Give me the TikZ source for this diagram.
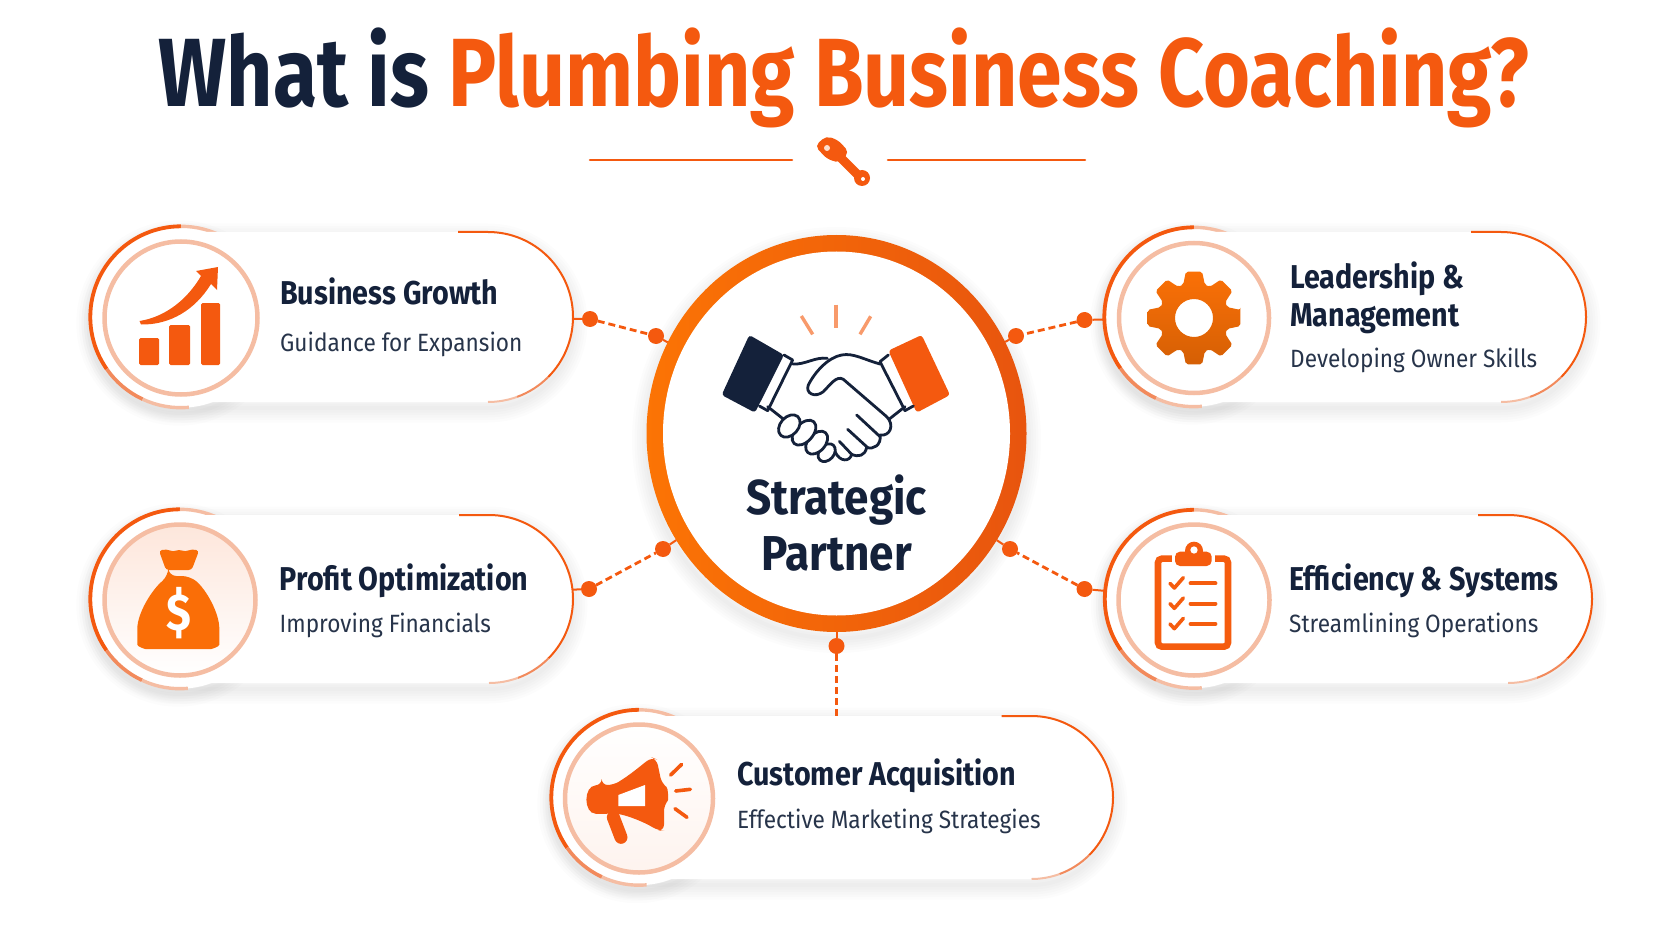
\documentclass[tikz,border=0pt]{standalone}
\usepackage{fontspec}
\setmainfont{Fira Sans}
\newfontfamily\titlefont[FakeStretch=0.83]{Fira Sans}
\newfontfamily\headfont[FakeStretch=0.87]{Fira Sans}
\newfontfamily\hubfont[FakeStretch=0.9]{Fira Sans}
\newfontfamily\subfont[FakeStretch=0.905]{Fira Sans}
\usepackage{tikz}
\usetikzlibrary{positioning}
\usetikzlibrary{shapes.geometric}
\definecolor{navy}{HTML}{14213A}
\definecolor{subnavy}{HTML}{27344A}
\definecolor{plumb}{HTML}{F4590F}
\definecolor{ringmid}{HTML}{F28A5C}
\definecolor{ringlight}{HTML}{F5BDA3}
\definecolor{rayorange}{HTML}{F89A6B}
\tikzset{titletext/.style={anchor=base,inner sep=0pt,font=\titlefont\bfseries\fontsize{97}{100}\selectfont}}
\tikzset{cardhead/.style={anchor=base west,inner sep=0pt,text=navy,font=\headfont\bfseries\fontsize{33}{36}\selectfont}}
\tikzset{cardsub/.style={anchor=base west,inner sep=0pt,text=subnavy,font=\subfont\fontsize{25}{28}\selectfont}}
\tikzset{hubtext/.style={anchor=base,inner sep=0pt,text=navy,font=\hubfont\bfseries\fontsize{49}{52}\selectfont}}
\tikzset{pillbox/.style={rectangle,fill=white,draw=none,inner sep=0pt,outer sep=0pt}}
\tikzset{ringbox/.style={circle,fill=white,draw=none,inner sep=0pt,outer sep=0pt}}
\tikzset{innerplain/.style={circle,draw=ringlight,line width=4.5pt,inner sep=0pt,outer sep=0pt}}
\tikzset{innerfade/.style={innerplain,top color=white,bottom color=plumb!7}}
\tikzset{innermoney/.style={innerplain,top color=plumb!15,bottom color=white}}
\tikzset{linkdot/.style={circle,fill=plumb,draw=none,inner sep=0pt,outer sep=0pt,minimum size=16pt}}
\tikzset{linkdash/.style={draw=plumb,line width=2.8pt,dash pattern=on 7pt off 4pt}}
\tikzset{linkstub/.style={draw=plumb,line width=2pt}}
\tikzset{handline/.style={draw=navy,line width=2.8pt,line cap=round,line join=round}}

\newcommand{\softpill}[4]{%
  \foreach \w in {4,9,...,29} {
    \draw[black,opacity=.012,line width=\w pt,rounded corners=#4 pt] (#1,#2) rectangle (#3,{#2+2*#4});
  }
}
\newcommand{\softround}[3]{%
  \foreach \w in {4,9,...,24} {
    \draw[black,opacity=.012,line width=\w pt] (#1,#2) circle (#3);
  }
}
% name, centre x, centre y, outer radius, inner radius, right end, half height, inner style
\newcommand{\pillcard}[8]{%
  \softround{#2-2}{#3+6}{#4}
  \softpill{#2-#7}{#3-#7+6}{#6}{#7}
  \node[ringbox,minimum size={2*#4}] (ring#1) at (#2,#3) {};
  \draw[plumb,line width=3.8pt] (ring#1.90) arc[start angle=-90,end angle=-215,radius=#4];
  \draw[ringmid,line width=3.6pt] (ring#1.215) arc[start angle=-215,end angle=-245,radius=#4];
  \draw[ringlight,line width=3.4pt] (ring#1.245) arc[start angle=-245,end angle=-275,radius=#4];
  \draw[ringlight,line width=3.4pt] (ring#1.90) arc[start angle=-90,end angle=-60,radius=#4];
  \node[pillbox,minimum width={#6-#2+#7},minimum height={2*#7},rounded corners=#7 pt] (pill#1) at ({(#2-#7+#6)/2},#3) {};
  \draw[plumb,line width=2pt] ({#6-#7-30},{#3-#7}) -- ({#6-#7},{#3-#7}) arc[start angle=-90,end angle=45,radius=#7];
  \draw[ringmid,line width=2pt] ({#6-#7+#7*cos(45)},{#3+#7*sin(45)}) arc[start angle=45,end angle=70,radius=#7];
  \draw[ringlight,line width=2pt] ({#6-#7+#7*cos(70)},{#3+#7*sin(70)}) arc[start angle=70,end angle=90,radius=#7];
  \node[#8,minimum size={2*#5}] (disc#1) at (#2,{#3+1}) {};
}

\begin{document}
\begin{tikzpicture}[x=1pt,y=-1pt]
\useasboundingbox (0,0) rectangle (1672,941);

% title and divider
\node[titletext,text=navy] (title) at (844,107) {What is \textcolor{plumb}{Plumbing Business Coaching?}};
\draw[plumb,line width=2.6pt,line cap=round] (590,160) -- (792,160);
\draw[plumb,line width=2.6pt,line cap=round] (888,160) -- (1085,160);

% wrench
\fill[plumb,rounded corners=5pt] (815,146) -- (826,136) -- (838,140) -- (849,152) -- (840,163) -- (827,159) -- cycle;
\draw[plumb,line width=9pt,line cap=round] (836,153) -- (858,175);
\fill[plumb] (862,178) circle (8);
\fill[white] (863,179) circle (2);
\fill[white!80!plumb] (827,148) circle (3);

% cards
\pillcard{A}{181}{317}{90.7}{76.5}{573}{85}{innerplain}
\pillcard{B}{180}{599}{89.7}{75.5}{573}{84}{innermoney}
\pillcard{C}{639}{797.5}{87.7}{74}{1113}{81.5}{innerfade}
\pillcard{D}{1194}{317}{89.7}{75}{1586}{85}{innerplain}
\pillcard{E}{1194}{599}{89.2}{75.5}{1592}{84}{innerplain}

% hub
\foreach \w in {4,9,...,29} {
  \draw[black,opacity=.012,line width=\w pt] (836.5,440) ellipse (190 and 198.5);
}
\node[ellipse,left color=orange!70!plumb,right color=plumb!95!black,minimum width=380pt,minimum height=397pt,inner sep=0pt,outer sep=0pt] (hubRim) at (836.5,433.5) {};
\node[ellipse,fill=white,minimum width=347pt,minimum height=364pt,inner sep=0pt,outer sep=0pt] (hub) at (836.5,433.5) {};
\node[hubtext] (hubTop) at (836.5,514) {Strategic};
\node[hubtext] (hubBot) at (836.5,570) {Partner};

% handshake
\begin{scope}[shift={(620,220)},scale=1/3]
  \draw[rayorange,line width=3.4pt] (648,254) -- (648,324);
  \draw[rayorange,line width=3.4pt] (544,288) -- (578,343);
  \draw[rayorange,line width=3.4pt] (752,289) -- (720,343);
  \fill[navy,rounded corners=3pt] (388,345) -- (492,405) -- (405,578) -- (305,525) -- cycle;
  \fill[plumb,rounded corners=3pt] (805,392) -- (905,345) -- (990,525) -- (890,578) -- cycle;
  \draw[handline] (492,405) -- (518,420) -- (443,572) -- (418,558);
  \draw[handline] (805,405) -- (780,425) -- (855,572) -- (880,558);
  \draw[handline] (518,432) .. controls (555,435) and (585,410) .. (622,415);
  \draw[handline] (443,560) -- (490,597);
  \draw[handline] (855,560) -- (808,597);
  \draw[handline] (780,432) .. controls (735,420) and (700,398) .. (665,405)
    .. controls (625,412) and (585,455) .. (565,495)
    .. controls (555,520) and (585,535) .. (610,515)
    .. controls (630,495) and (650,465) .. (670,478)
    -- (800,590) .. controls (825,615) and (810,650) .. (780,645)
    .. controls (785,675) and (760,690) .. (740,682)
    .. controls (735,708) and (715,712) .. (695,703)
    .. controls (690,725) and (660,728) .. (645,695);
  \draw[handline] (710,585) -- (778,648);
  \draw[handline] (683,628) -- (742,682);
  \draw[handline] (658,664) -- (695,703);
  \draw[handline,fill=white,rotate around={-42:(620,698)}] (620,698) ellipse (22 and 30);
  \draw[handline,fill=white,rotate around={-42:(590,668)}] (590,668) ellipse (26 and 40);
  \draw[handline,fill=white,rotate around={-42:(552,638)}] (552,638) ellipse (27 and 44);
  \draw[handline,fill=white,rotate around={-42:(508,618)}] (508,618) ellipse (27 and 38);
\end{scope}

% chart icon
\fill[plumb,rounded corners=1.5pt] (139,338) rectangle (159,365);
\fill[plumb,rounded corners=1.5pt] (169,325) rectangle (190,365);
\fill[plumb,rounded corners=1.5pt] (201,303) rectangle (220,365);
\fill[plumb] (139.5,321) .. controls (165,317) and (187,300) .. (201,276) -- (196,271) -- (218,267) -- (217,290) -- (211,284) .. controls (195,310) and (170,325) .. (141,324.5) -- cycle;

% money bag
\begin{scope}[shift={(80,500)},scale=1/3]
  \fill[orange!55!plumb,rounded corners=3pt] (237,152) .. controls (265,145) and (275,158) .. (297,148) .. controls (320,158) and (330,145) .. (357,152) -- (335,210) -- (258,210) -- cycle;
  \fill[orange!55!plumb,rounded corners=8pt] (265,228) -- (330,228) .. controls (380,270) and (418,340) .. (418,410) .. controls (418,440) and (395,447) .. (370,447) -- (220,447) .. controls (195,447) and (172,440) .. (172,410) .. controls (172,340) and (215,270) .. (265,228) -- cycle;
\end{scope}
\node[inner sep=0pt,text=white,font=\headfont\bfseries\fontsize{52}{54}\selectfont] (moneySign) at (178.5,613) {\$};

% megaphone
\begin{scope}[shift={(540,700)},scale=1/3]
  \draw[plumb,line width=13pt,line cap=round] (220,352) -- (243,412);
  \fill[plumb,rounded corners=6pt] (185,255) -- (220,255) .. controls (270,225) and (305,195) .. (335,172) -- (350,178) -- (365,250) .. controls (385,265) and (385,300) .. (372,315) -- (372,392) -- (355,392) .. controls (310,365) and (270,350) .. (228,340) -- (185,342) .. controls (130,340) and (130,258) .. (185,255) -- cycle;
  \fill[white] (235,285) -- (315,255) -- (315,318) -- (235,318) -- cycle;
  \draw[plumb,line width=3.6pt,line cap=round] (392,225) -- (425,193);
  \draw[plumb,line width=3.6pt,line cap=round] (407,273) -- (451,268);
  \draw[plumb,line width=3.6pt,line cap=round] (405,326) -- (441,352);
\end{scope}

% gear
\shade[top color=orange!60!plumb,bottom color=orange!60!plumb!85!black,even odd rule,rounded corners=2pt,shift={(1194,318)}]
  (-10:47) foreach \a in {0,45,...,315} { -- (\a-10:47) -- (\a+10:47) -- (\a+18:35) -- (\a+27:35) } -- cycle (0,0) circle (19);

% clipboard
\begin{scope}[shift={(1090,500)},scale=1/3]
  \draw[plumb!92!orange,line width=6.6pt,rounded corners=4pt] (204,176) rectangle (414,440);
  \fill[white] (245,150) rectangle (375,205);
  \fill[plumb!92!orange,rounded corners=5pt] (255,155) rectangle (365,198);
  \fill[plumb!92!orange] (312,152) circle (27);
  \fill[white] (312,150) circle (11);
  \foreach \y in {0,61,122} {
    \draw[plumb!92!orange,line width=3.6pt,line cap=round,line join=round] (240,{250+\y}) -- (253,{264+\y}) -- (280,{233+\y});
    \draw[plumb!92!orange,line width=4.2pt,line cap=round] (302,{250+\y}) -- (376,{250+\y});
  }
\end{scope}

% card texts
\node[cardhead] (headA) at (280,304) {Business Growth};
\node[cardsub] (subA) at (280,351) {Guidance for Expansion};
\node[cardhead] (headB) at (279.5,590) {Profit Optimization};
\node[cardsub] (subB) at (279.5,632) {Improving Financials};
\node[cardhead] (headC) at (737,785) {Customer Acquisition};
\node[cardsub] (subC) at (737,828) {Effective Marketing Strategies};
\node[cardhead] (headD) at (1290,288) {Leadership \&};
\node[cardhead] (headDb) at (1290,326) {Management};
\node[cardsub] (subD) at (1290,367) {Developing Owner Skills};
\node[cardhead] (headE) at (1289,590) {Efficiency \& Systems};
\node[cardsub] (subE) at (1289,632) {Streamlining Operations};

% connectors
\node[linkdot] (dotA) at (590,319) {};
\node[linkdot] (dotAr) at (656,336) {};
\node[linkdot] (dotB) at (589,589) {};
\node[linkdot] (dotBr) at (663,549) {};
\node[linkdot] (dotD) at (1084.5,320) {};
\node[linkdot] (dotDl) at (1016,336) {};
\node[linkdot] (dotE) at (1084.5,589) {};
\node[linkdot] (dotEl) at (1010,549) {};
\node[linkdot] (dotC) at (836.5,646) {};
\draw[linkdash] (dotA) -- (dotAr);
\draw[linkdash] (dotB) -- (dotBr);
\draw[linkdash] (dotD) -- (dotDl);
\draw[linkdash] (dotE) -- (dotEl);
\draw[linkdash] (dotC) -- (dotC |- pillC.north);
\draw[linkstub] (dotA) -- (pillA);
\draw[linkstub] (dotB) -- (pillB);
\draw[linkstub] (dotD) -- (ringD);
\draw[linkstub] (dotE) -- (ringE);
\draw[linkstub] (dotAr) -- (hubRim);
\draw[linkstub] (dotBr) -- (hubRim);
\draw[linkstub] (dotDl) -- (hubRim);
\draw[linkstub] (dotEl) -- (hubRim);
\draw[linkstub] (dotC) -- (hubRim);

\end{tikzpicture}
\end{document}
